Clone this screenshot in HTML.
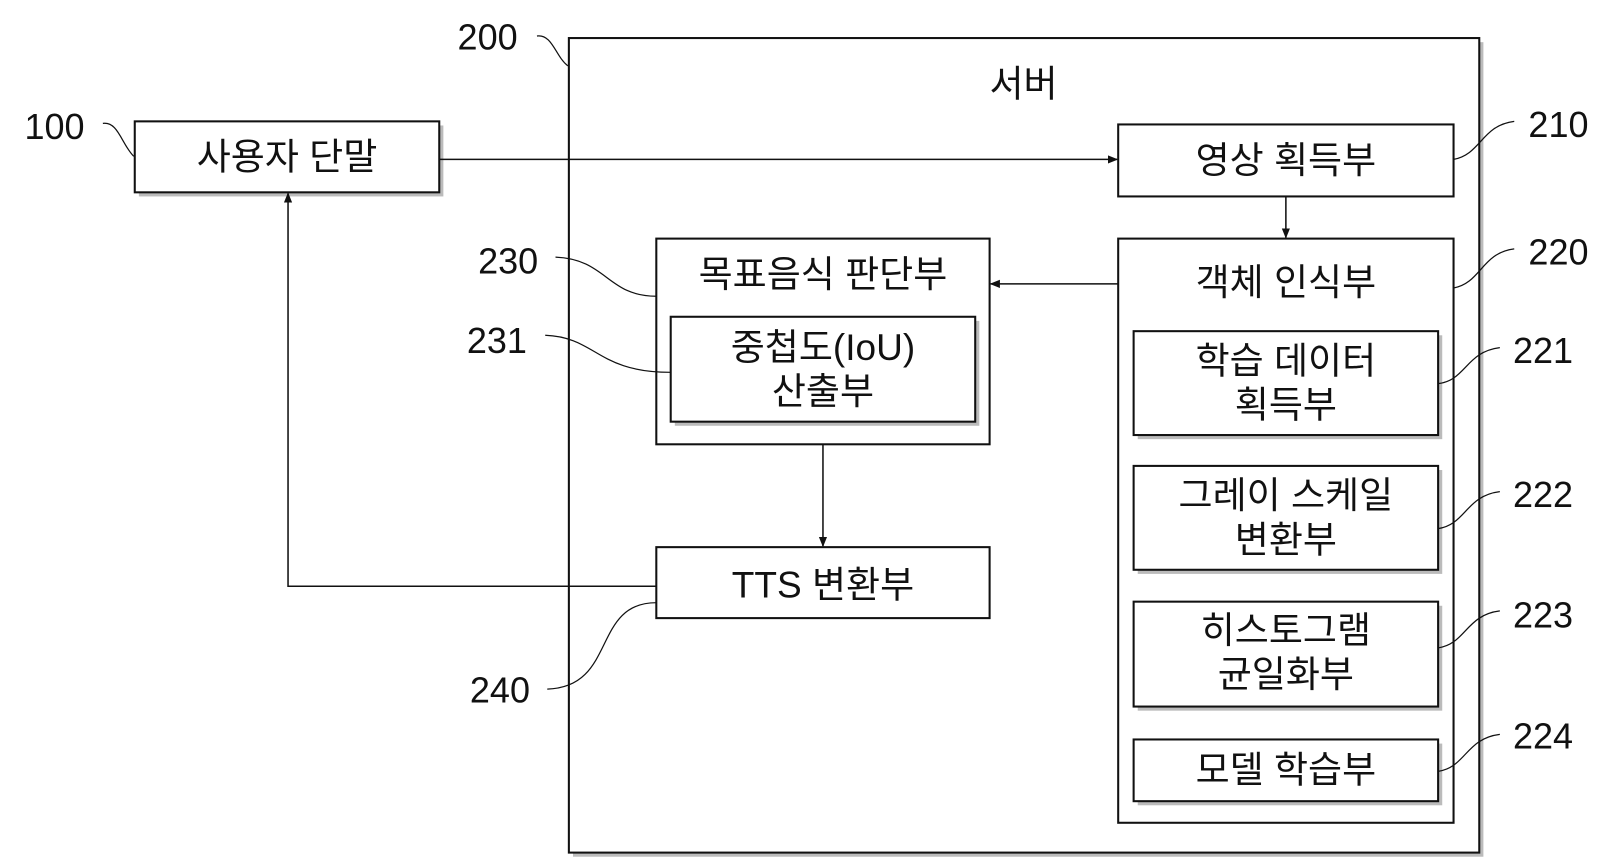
<!DOCTYPE html>
<html><head><meta charset="utf-8"><style>
html,body{margin:0;padding:0;background:#fff;}
svg{display:block}
text{font-family:"Liberation Sans","Noto Sans CJK KR",sans-serif;fill:#111;}
.k{font-family:"Noto Sans CJK KR","Liberation Sans",sans-serif;}
</style></head><body>
<svg width="1613" height="867" viewBox="0 0 1568 843" preserveAspectRatio="none" xmlns="http://www.w3.org/2000/svg">
<defs>
<marker id="a" markerWidth="10" markerHeight="10" refX="9" refY="5" orient="auto" markerUnits="userSpaceOnUse"><path d="M0,1 L10,5 L0,9 z" fill="#111"/></marker>
</defs>
<g fill="#fff" stroke="#111" stroke-width="2">
<g stroke="none" fill="#bbb">
<rect x="135" y="122" width="296" height="69"/>
<rect x="557" y="41" width="885" height="792"/>
<rect x="1091" y="125" width="326" height="70"/>
<rect x="1091" y="236" width="326" height="568"/>
<rect x="642" y="236" width="324" height="200"/>
<rect x="642" y="536" width="324" height="69"/>
</g>
<rect x="131" y="118" width="296" height="69"/>
<rect x="553" y="37" width="885" height="792"/>
<rect x="1087" y="121" width="326" height="70"/>
<rect x="1087" y="232" width="326" height="568"/>
<g stroke="none" fill="#bbb">
<rect x="1106" y="326" width="296" height="101"/>
<rect x="1106" y="457" width="296" height="101"/>
<rect x="1106" y="589" width="296" height="102"/>
<rect x="1106" y="723" width="296" height="60"/>
</g>
<rect x="1102" y="322" width="296" height="101"/>
<rect x="1102" y="453" width="296" height="101"/>
<rect x="1102" y="585" width="296" height="102"/>
<rect x="1102" y="719" width="296" height="60"/>
<rect x="638" y="232" width="324" height="200"/>
<rect x="656" y="312" width="296" height="102" stroke="none" fill="#bbb"/>
<rect x="652" y="308" width="296" height="102"/>
<rect x="638" y="532" width="324" height="69"/>
</g>
<g stroke="#111" stroke-width="1.5" fill="none">
<line x1="427" y1="155" x2="1086" y2="155" marker-end="url(#a)"/>
<line x1="1250" y1="191" x2="1250" y2="231" marker-end="url(#a)"/>
<line x1="1087" y1="276" x2="963" y2="276" marker-end="url(#a)"/>
<line x1="800" y1="432" x2="800" y2="531" marker-end="url(#a)"/>
<polyline points="638,570 280,570 280,188" marker-end="url(#a)"/>
</g>
<g stroke="#111" stroke-width="1.2" fill="none">
<path d="M100,120 C115,118 118,140 130,152"/>
<path d="M522,35 C537,33 540,55 552,64"/>
<path d="M1413,155 C1440,150 1440,122 1472,118"/>
<path d="M1413,280 C1440,275 1440,246 1472,242"/>
<path d="M1398,373 C1425,370 1425,342 1458,338"/>
<path d="M1398,514 C1425,510 1425,482 1458,478"/>
<path d="M1398,630 C1425,626 1425,598 1458,594"/>
<path d="M1398,750 C1425,746 1425,718 1458,714"/>
<path d="M540,250 C590,252 590,288 638,288"/>
<path d="M530,326 C580,328 580,362 652,362"/>
<path d="M638,586 C575,586 600,668 532,670"/>
</g>
<g font-size="36" text-anchor="middle" class="k">
<text x="279" y="165">사용자 단말</text>
<text x="995" y="94">서버</text>
<text x="1250" y="168">영상 획득부</text>
<text x="1250" y="287">객체 인식부</text>
<text x="1250" y="363">학습 데이터</text>
<text x="1250" y="406">획득부</text>
<text x="1250" y="494">그레이 스케일</text>
<text x="1250" y="537">변환부</text>
<text x="1250" y="625">히스토그램</text>
<text x="1250" y="668">균일화부</text>
<text x="1250" y="761">모델 학습부</text>
<text x="800" y="279">목표음식 판단부</text>
<text x="800" y="350">중첩도(IoU)</text>
<text x="800" y="393">산출부</text>
<text x="800" y="581">TTS 변환부</text>
</g>
<g font-size="35" text-anchor="middle">
<text x="53" y="135">100</text>
<text x="474" y="48">200</text>
<text x="1515" y="133">210</text>
<text x="1515" y="257">220</text>
<text x="1500" y="353">221</text>
<text x="1500" y="493">222</text>
<text x="1500" y="610">223</text>
<text x="1500" y="728">224</text>
<text x="494" y="266">230</text>
<text x="483" y="343">231</text>
<text x="486" y="683">240</text>
</g>
</svg>
</body></html>
